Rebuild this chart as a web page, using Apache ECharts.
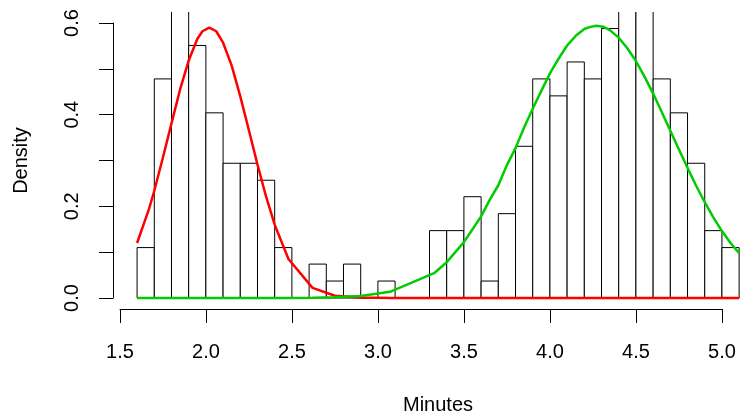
<!DOCTYPE html>
<html>
<head>
<meta charset="utf-8">
<script src="https://cdn.jsdelivr.net/npm/echarts@6/dist/echarts.min.js"></script>
<style>
  html, body { margin: 0; padding: 0; background: #fff; }
  #chart { width: 740px; height: 415px; }
</style>
</head>
<body>
<div id="chart"></div>
<script>
  // histogram breaks (minutes) and densities per bin
  var breaks = [1.6, 1.7, 1.8, 1.9, 2.0, 2.1, 2.2, 2.3, 2.4, 2.5, 2.6, 2.7, 2.8, 2.9, 3.0, 3.1, 3.2, 3.3,
    3.4, 3.5, 3.6, 3.7, 3.8, 3.9, 4.0, 4.1, 4.2, 4.3, 4.4, 4.5, 4.6, 4.7, 4.8, 4.9, 5.0, 5.1];
  var density = [0.110, 0.478, 0.70, 0.551, 0.404, 0.294, 0.294, 0.257, 0.110, 0, 0.074, 0.037, 0.074, 0,
    0.037, 0, 0, 0.147, 0.147, 0.221, 0.037, 0.184, 0.331, 0.478, 0.441, 0.515, 0.478, 0.588, 0.70, 0.74,
    0.478, 0.404, 0.294, 0.147, 0.110];

  // fitted component curves
  var curveX = [1.6, 1.67, 1.7, 1.75, 1.8, 1.85, 1.9, 1.95, 1.98, 2.02, 2.06, 2.1, 2.15, 2.2, 2.25, 2.3, 2.35,
    2.4, 2.48, 2.62, 2.75, 2.9, 3.07, 3.33, 3.4, 3.45, 3.5, 3.55, 3.6, 3.65, 3.7, 3.75, 3.8, 3.85, 3.9, 3.95,
    4.0, 4.05, 4.1, 4.15, 4.2, 4.23, 4.27, 4.31, 4.35, 4.4, 4.45, 4.5, 4.55, 4.6, 4.65, 4.7, 4.75, 4.8, 4.85,
    4.9, 4.95, 5.0, 5.05, 5.1];
  var redY = [0.120, 0.195, 0.234, 0.306, 0.381, 0.455, 0.518, 0.565, 0.582, 0.590, 0.582, 0.557, 0.507,
    0.440, 0.366, 0.291, 0.221, 0.160, 0.085, 0.022, 0.005, 0.001,
    0, 0, 0, 0, 0, 0, 0, 0, 0, 0, 0, 0, 0, 0, 0, 0, 0, 0, 0, 0,
    0, 0, 0, 0, 0, 0, 0, 0, 0, 0, 0, 0, 0, 0, 0, 0, 0, 0];
  var greenY = [0, 0, 0, 0, 0, 0, 0, 0, 0, 0, 0, 0, 0, 0, 0, 0, 0, 0, 0,
    0.0005, 0.0015, 0.0045, 0.0135,
    0.055, 0.078, 0.100, 0.122, 0.150, 0.178, 0.214, 0.246, 0.290, 0.327,
    0.372, 0.413, 0.452, 0.490, 0.522, 0.551, 0.572, 0.587, 0.591, 0.594,
    0.592, 0.584, 0.568, 0.545, 0.517, 0.483, 0.446, 0.406, 0.365, 0.324,
    0.284, 0.245, 0.209, 0.176, 0.146, 0.120, 0.098];

  var xTicks = [1.5, 5.0];
  var yTicks = [0, 0.6];

  var bins = density.map(function (d, i) { return [breaks[i], breaks[i + 1], d]; });
  var red = curveX.map(function (x, i) { return [x, redY[i]]; });
  var green = curveX.map(function (x, i) { return [x, greenY[i]]; });

  var font = "'Liberation Sans', Arial, sans-serif";
  var chart = echarts.init(document.getElementById("chart"));
  var option = {
    animation: false,
    backgroundColor: "#fff",
    textStyle: { fontFamily: font, color: "#000" },
    grid: [
      // plot region (cut off at the right edge of the picture)
      { left: 113, top: 12, width: 627, height: 297, outerBoundsMode: "none" },
      // x axis only (1.5 .. 5.0)
      { left: 120, top: 12, width: 602, height: 297, outerBoundsMode: "none" },
      // y axis only (0 .. 0.6)
      { left: 113, top: 23, width: 600, height: 275, outerBoundsMode: "none" }
    ],
    xAxis: [
      {
        gridIndex: 0, type: "value", min: 1.46, max: 5.105,
        axisLine: { show: false }, axisTick: { show: false }, axisLabel: { show: false }, splitLine: { show: false },
        name: "Minutes", nameLocation: "middle", nameGap: 86,
        nameTextStyle: { fontSize: 20, color: "#000", fontFamily: font, padding: [0, 0, 0, 23] }
      },
      {
        gridIndex: 1, type: "value", min: xTicks[0], max: xTicks[1], interval: 0.5, position: "bottom",
        axisLine: { show: true, lineStyle: { color: "#000", width: 1 } },
        axisTick: { show: true, length: 14, lineStyle: { color: "#000" } },
        axisLabel: { fontSize: 20, color: "#000", margin: 33, formatter: function (v) { return v.toFixed(1); } },
        splitLine: { show: false }
      },
      { gridIndex: 2, type: "value", show: false }
    ],
    yAxis: [
      {
        gridIndex: 0, type: "value", min: -0.024, max: 0.624,
        axisLine: { show: false }, axisTick: { show: false }, axisLabel: { show: false }, splitLine: { show: false },
        name: "Density", nameLocation: "middle", nameGap: 82, nameRotate: 90,
        nameTextStyle: { fontSize: 20, color: "#000", fontFamily: font }
      },
      { gridIndex: 1, type: "value", show: false },
      {
        gridIndex: 2, type: "value", min: yTicks[0], max: yTicks[1], interval: 0.1, position: "left",
        axisLine: { show: true, lineStyle: { color: "#000", width: 1 } },
        axisTick: { show: true, length: 14, lineStyle: { color: "#000" } },
        axisLabel: {
          fontSize: 20, color: "#000", rotate: 90, margin: 31,
          formatter: function (v) { return Math.round(v * 10) % 2 === 0 ? v.toFixed(1) : ""; }
        },
        splitLine: { show: false }
      }
    ],
    series: [
      {
        type: "custom",
        xAxisIndex: 0, yAxisIndex: 0,
        clip: true,
        data: bins,
        renderItem: function (params, api) {
          var p0 = api.coord([api.value(0), 0]);
          var p1 = api.coord([api.value(1), api.value(2)]);
          return {
            type: "rect",
            shape: { x: p0[0], y: p1[1], width: p1[0] - p0[0], height: p0[1] - p1[1] },
            style: { fill: "#fff", stroke: "#000", lineWidth: 1 }
          };
        }
      },
      {
        type: "line", xAxisIndex: 0, yAxisIndex: 0, data: red,
        showSymbol: false, lineStyle: { color: "#ff0000", width: 2.5 }
      },
      {
        type: "line", xAxisIndex: 0, yAxisIndex: 0, data: green,
        showSymbol: false, lineStyle: { color: "#00cd00", width: 2.5 }
      }
    ]
  };
  chart.setOption(option);
  window.addEventListener("resize", function () {
    chart.resize();
  });
</script>
</body>
</html>
